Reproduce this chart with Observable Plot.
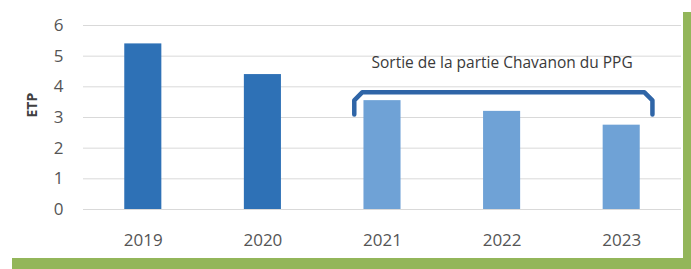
<!DOCTYPE html>
<html>
<head>
<meta charset="utf-8">
<script src="https://cdn.jsdelivr.net/npm/d3@7"></script>
<script src="https://cdn.jsdelivr.net/npm/@observablehq/plot@0.6"></script>
<style>
  html, body { margin: 0; padding: 0; background: #ffffff; }
  #frame { position: relative; width: 691px; height: 269px; overflow: hidden; }
  #shadow { position: absolute; left: 12px; top: 12px; right: 0; bottom: 0; background: #93b65a; }
  #chart { position: absolute; left: 0; top: 0; width: 683px; height: 258px; background: #ffffff; }
  #chart svg { display: block; }
</style>
</head>
<body>
<div id="frame">
  <div id="shadow"></div>
  <div id="chart"></div>
</div>
<script>
// Data
const years = [2019, 2020, 2021, 2022, 2023];
const values = [5.4, 4.4, 3.55, 3.2, 2.75];
const groups = ["avant", "avant", "après", "après", "après"];
const yTicks = [0, 1, 2, 3, 4, 5, 6];
const yLabel = "ETP";
const annotationText = "Sortie de la partie Chavanon du PPG";
const annotationX = [2022];
const annotationY = [4.76];
// bracket path (data coordinates)
const bracketX = [2020.764, 2020.764, 2020.83, 2023.19, 2023.257, 2023.257];
const bracketY = [3.10, 3.56, 3.82, 3.82, 3.56, 3.10];

const data = years.map((y, i) => ({year: y, value: values[i], group: groups[i]}));
const bracket = bracketX.map((x, i) => ({x, y: bracketY[i]}));
const colors = {"avant": "#2e71b6", "après": "#6fa2d6"};
const halfBar = 0.155;

const chart = Plot.plot({
  width: 683,
  height: 258,
  marginTop: 25,
  marginBottom: 49,
  marginLeft: 83,
  marginRight: 2,
  style: {fontFamily: "'Open Sans', sans-serif", background: "transparent"},
  x: {domain: [2018.5, 2023.5], axis: null},
  y: {domain: [0, 6], axis: null},
  marks: [
    Plot.gridY(yTicks, {stroke: "#d9d9d9", strokeOpacity: 1, strokeWidth: 1}),
    Plot.axisY(yTicks, {tickSize: 0, tickPadding: 20, fontSize: 17, fill: "#555555", label: null}),
    Plot.axisX(years, {tickSize: 0, tickPadding: 24, fontSize: 17, fill: "#555555", label: null, tickFormat: d => String(d)}),
    Plot.rectY(data, {
      x1: d => d.year - halfBar,
      x2: d => d.year + halfBar,
      y: "value",
      fill: d => colors[d.group]
    }),
    Plot.line(bracket, {x: "x", y: "y", stroke: "#2f65a7", strokeWidth: 4.5, strokeLinejoin: "round", strokeLinecap: "round"}),
    Plot.text([annotationText], {x: annotationX, y: annotationY, fontSize: 15.5, fill: "#3a3a3a", textAnchor: "middle", lineAnchor: "middle"}),
    Plot.text([yLabel], {frameAnchor: "left", dx: -51, rotate: -90, fontSize: 14, fontWeight: "bold", fill: "#404040", lineAnchor: "middle"})
  ]
});
document.getElementById("chart").appendChild(chart);
</script>
</body>
</html>
